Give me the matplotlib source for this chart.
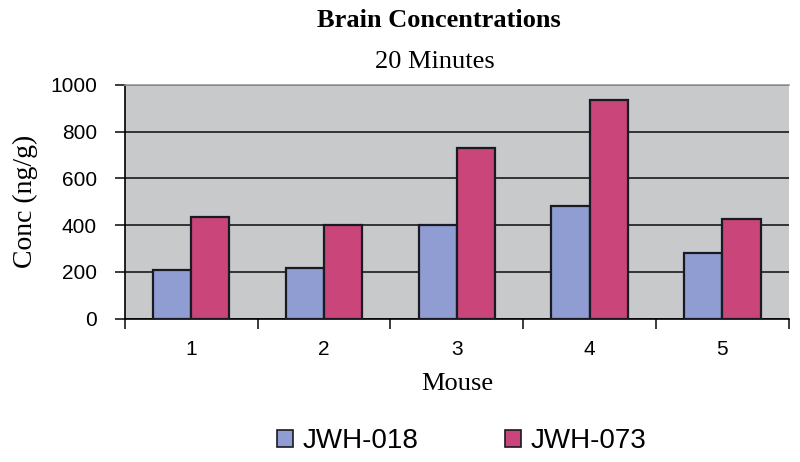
import numpy as np
import matplotlib.pyplot as plt
from matplotlib.patches import Patch

# data
mice = ['1', '2', '3', '4', '5']
jwh018 = [207, 215, 400, 482, 282]
jwh073 = [436, 400, 729, 937, 426]
yticks = [0, 200, 400, 600, 800, 1000]

blue = '#8F9DD3'
pink = '#C9457A'
edge = '#1a1a22'

fig = plt.figure(figsize=(8, 4.62), dpi=100)
ax = fig.add_axes([0.156, 0.310, 0.830, 0.5065])
ax.set_facecolor('#C8C9CB')

x = np.arange(len(mice))
w = 0.288
ax.bar(x - w / 2, jwh018, w, color=blue, edgecolor=edge, linewidth=1.6, zorder=3)
ax.bar(x + w / 2, jwh073, w, color=pink, edgecolor=edge, linewidth=1.6, zorder=3)

ax.set_xlim(-0.5, len(mice) - 0.5)
ax.set_ylim(0, 1000)
ax.set_yticks(yticks)
ax.set_yticklabels([str(v) for v in yticks], family='Liberation Sans', fontsize=15)
ax.yaxis.grid(True, color='#1a1a1a', linewidth=1.2, zorder=1)

# x ticks at category boundaries, labels at centres
ax.set_xticks(np.arange(len(mice) + 1) - 0.5)
ax.set_xticklabels([])
ax.set_xticks(x, minor=True)
ax.set_xticklabels(mice, minor=True, family='Liberation Sans', fontsize=15)
ax.tick_params(axis='x', which='minor', length=0, pad=15)
ax.tick_params(axis='x', which='major', length=7, width=1.2, color='#1a1a1a')
ax.tick_params(axis='y', length=7, width=1.2, color='#1a1a1a', pad=13)

ax.spines['right'].set_visible(False)
ax.spines['top'].set_color('#999999')
ax.spines['top'].set_linewidth(1.2)
ax.spines['left'].set_linewidth(1.2)
ax.spines['bottom'].set_linewidth(1.2)

ax.set_xlabel('Mouse', family='Liberation Serif', fontsize=19, labelpad=10)
ax.set_ylabel('Conc (ng/g)', family='Liberation Serif', fontsize=20, labelpad=9)

fig.text(0.548, 0.942, 'Brain Concentrations', family='Liberation Serif',
         fontweight='bold', fontsize=19, ha='center', va='baseline')
fig.text(0.544, 0.852, '20 Minutes', family='Liberation Serif',
         fontsize=19, ha='center', va='baseline')

handles = [Patch(facecolor=blue, edgecolor=edge, linewidth=1.2),
           Patch(facecolor=pink, edgecolor=edge, linewidth=1.2)]
fig.legend(handles, ['JWH-018', 'JWH-073'], loc='center', bbox_to_anchor=(0.577, 0.045),
           ncol=2, frameon=False, prop={'family': 'Liberation Sans', 'size': 20},
           handlelength=0.58, handleheight=0.58, handletextpad=0.36, columnspacing=3.1,
           borderpad=0, borderaxespad=0)

fig.savefig('out.png', dpi=100)
